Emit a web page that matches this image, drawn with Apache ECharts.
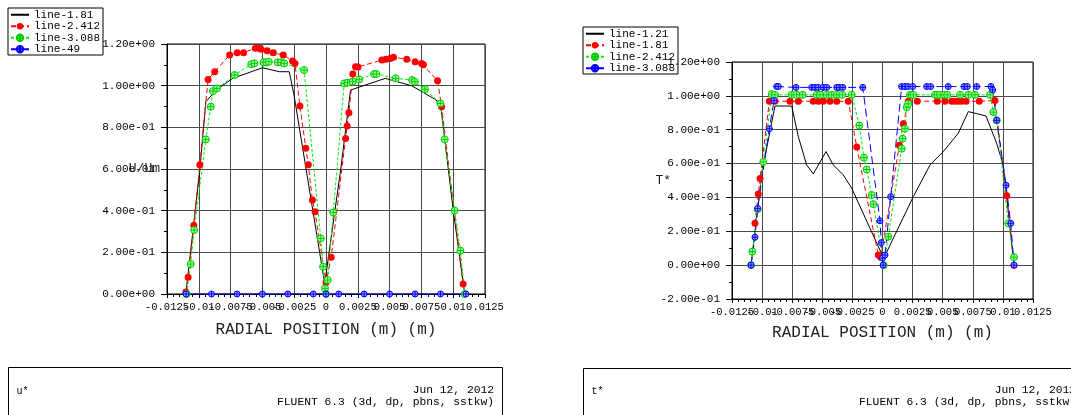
<!DOCTYPE html>
<html>
<head>
<meta charset="utf-8">
<script src="https://cdn.jsdelivr.net/npm/echarts@6/dist/echarts.min.js"></script>
<style>
  html, body { margin: 0; padding: 0; background: #fff; overflow: hidden; }
  #uPlot { position: absolute; left: 0; top: 0; width: 540px; height: 415px; }
  #tPlot { position: absolute; left: 540px; top: 0; width: 531px; height: 415px; }
</style>
</head>
<body>
<div id="uPlot"></div>
<div id="tPlot"></div>
<script>
// ---- tick values ----
const xTickValues = [-0.0125, -0.01, -0.0075, -0.005, -0.0025, 0, 0.0025, 0.005, 0.0075, 0.01, 0.0125];
const uTickValues = [0, 0.2, 0.4, 0.6, 0.8, 1.0, 1.2];
const tTickValues = [-0.2, 0, 0.2, 0.4, 0.6, 0.8, 1.0, 1.2];

// ---- u* profiles: [radial position (m), U/Um] ----
const uLine181 = [
  [-0.01102, 0], [-0.00992, 0.595], [-0.00945, 0.923], [-0.00862, 0.979], [-0.00734, 1.035],
  [-0.0050, 1.086], [-0.00367, 1.067], [-0.00289, 1.067], [-0.0025, 0.95], [-0.0001, 0.05],
  [0.00115, 0.595], [0.00193, 0.979], [0.00466, 1.035], [0.00672, 1.0], [0.00867, 0.931],
  [0.00906, 0.883], [0.0100, 0.403], [0.01091, 0]
];
const uLine2412 = [
  [-0.01102, 0.01], [-0.01084, 0.08], [-0.01039, 0.33], [-0.00992, 0.62], [-0.00927, 1.03],
  [-0.00875, 1.067], [-0.00758, 1.147], [-0.00698, 1.158], [-0.00648, 1.158], [-0.00555, 1.18],
  [-0.00523, 1.18], [-0.0051, 1.175], [-0.00463, 1.168], [-0.00414, 1.158], [-0.00336, 1.147],
  [-0.00263, 1.119], [-0.00244, 1.107], [-0.00205, 0.903], [-0.00159, 0.70], [-0.00139, 0.62],
  [-0.00107, 0.451], [-0.00086, 0.395], [0, 0.055], [0.00041, 0.176], [0.00154, 0.747],
  [0.00166, 0.806], [0.0018, 0.87], [0.00205, 1.019], [0.00211, 1.056], [0.00232, 1.091],
  [0.00252, 1.09], [0.0044, 1.123], [0.00471, 1.127], [0.00505, 1.131], [0.00531, 1.136],
  [0.00635, 1.127], [0.00701, 1.115], [0.00752, 1.107], [0.00766, 1.10], [0.00877, 1.024],
  [0.00909, 0.899], [0.01078, 0.048]
];
const uLine3088 = [
  [-0.01096, 0], [-0.01064, 0.144], [-0.01036, 0.307], [-0.00945, 0.742], [-0.00906, 0.899],
  [-0.00888, 0.974], [-0.00857, 0.987], [-0.00718, 1.051], [-0.00588, 1.103], [-0.00562, 1.107],
  [-0.00491, 1.112], [-0.0047, 1.112], [-0.0045, 1.115], [-0.0038, 1.112], [-0.00354, 1.112],
  [-0.00328, 1.107], [-0.00172, 1.075], [-0.00041, 0.267], [-0.00023, 0.131], [-0.00008, 0.027],
  [0, 0], [0.00013, 0.067], [0.00057, 0.391], [0.00143, 1.011], [0.00169, 1.014],
  [0.00209, 1.019], [0.00261, 1.03], [0.00378, 1.056], [0.00396, 1.056], [0.00548, 1.035],
  [0.00677, 1.027], [0.00699, 1.019], [0.00777, 0.983], [0.00899, 0.915], [0.00933, 0.742],
  [0.01011, 0.40], [0.01057, 0.208], [0.0109, 0]
];
const uLine49 = [
  [-0.011, 0], [-0.009, 0], [-0.007, 0], [-0.005, 0], [-0.003, 0], [-0.001, 0], [0, 0],
  [0.001, 0], [0.003, 0], [0.005, 0], [0.007, 0], [0.009, 0], [0.011, 0]
];

// ---- t* profiles: [radial position (m), T*] ----
const tLine121 = [
  [-0.01092, 0], [-0.01001, 0.55], [-0.00893, 0.94], [-0.00754, 0.94], [-0.00699, 0.759],
  [-0.0063, 0.592], [-0.00575, 0.539], [-0.00469, 0.671], [-0.00409, 0.592], [-0.00326, 0.533],
  [-0.00256, 0.455], [0.0001, 0.04], [0.00256, 0.405], [0.00395, 0.592], [0.00505, 0.671],
  [0.0063, 0.78], [0.00713, 0.907], [0.0086, 0.881], [0.00948, 0.72], [0.01003, 0.592],
  [0.01092, 0]
];
const tLine181 = [
  [-0.01059, 0.247], [-0.01032, 0.42], [-0.01017, 0.512], [-0.0094, 0.968], [-0.00893, 0.968],
  [-0.00768, 0.968], [-0.00699, 0.968], [-0.00575, 0.968], [-0.00533, 0.968], [-0.00492, 0.968],
  [-0.00436, 0.968], [-0.0038, 0.968], [-0.00284, 0.968], [-0.00214, 0.698], [-0.00035, 0.06],
  [-0.00015, 0.047], [0.0014, 0.708], [0.00173, 0.835], [0.00214, 0.968], [0.00289, 0.968],
  [0.00455, 0.968], [0.00519, 0.968], [0.00575, 0.968], [0.00602, 0.968], [0.0063, 0.968],
  [0.00658, 0.968], [0.00694, 0.968], [0.00804, 0.968], [0.00934, 0.972], [0.01032, 0.41],
  [0.01059, 0.247], [0.01092, 0]
];
const tLine2412 = [
  [-0.01092, 0], [-0.01081, 0.08], [-0.01037, 0.33], [-0.0099, 0.61], [-0.0092, 1.01],
  [-0.00893, 1.006], [-0.00754, 1.006], [-0.00713, 1.006], [-0.00663, 1.006], [-0.00547, 1.006],
  [-0.00519, 1.006], [-0.00463, 1.006], [-0.00422, 1.006], [-0.0038, 1.006], [-0.00334, 1.006],
  [-0.00256, 1.006], [-0.00193, 0.825], [-0.00154, 0.635], [-0.00131, 0.565], [-0.0009, 0.414],
  [-0.00076, 0.36], [0.0001, 0], [0.00048, 0.168], [0.00159, 0.688], [0.00167, 0.747],
  [0.00187, 0.806], [0.00201, 0.933], [0.00214, 0.953], [0.00228, 1.006], [0.00242, 1.006],
  [0.00256, 1.006], [0.00436, 1.006], [0.00455, 1.006], [0.00478, 1.006], [0.00519, 1.006],
  [0.00538, 1.006], [0.00644, 1.006], [0.00713, 1.006], [0.00768, 1.006], [0.00893, 1.006],
  [0.00921, 0.904], [0.00949, 0.855], [0.01045, 0.247], [0.01092, 0.047]
];
const tLine3088 = [
  [-0.01092, 0], [-0.01059, 0.165], [-0.01037, 0.335], [-0.0094, 0.806], [-0.00901, 0.972],
  [-0.00879, 1.055], [-0.00865, 1.055], [-0.00718, 1.05], [-0.00588, 1.05], [-0.00561, 1.05],
  [-0.00533, 1.05], [-0.00492, 1.05], [-0.00463, 1.05], [-0.0038, 1.05], [-0.00359, 1.05],
  [-0.0033, 1.05], [-0.00164, 1.05], [-0.00021, 0.262], [-0.0001, 0.133], [0, 0.041],
  [0.00005, 0], [0.00021, 0.06], [0.00068, 0.404], [0.00159, 1.055], [0.00187, 1.055],
  [0.00214, 1.055], [0.00251, 1.055], [0.00367, 1.055], [0.004, 1.055], [0.00546, 1.055],
  [0.00677, 1.055], [0.00704, 1.055], [0.00782, 1.055], [0.00901, 1.055], [0.00915, 1.035],
  [0.00948, 0.855], [0.01026, 0.472], [0.01065, 0.247], [0.01092, 0]
];

const MONO = '"Liberation Mono", "DejaVu Sans Mono", monospace';
const CROSS_CIRCLE = 'path://M10,0A10,10,0,1,1,10,20A10,10,0,1,1,10,0ZM0,10L20,10M10,0L10,20';

// line styles used by the plots
const STYLE = {
  black: { line: { color: '#000000', width: 1, type: 'solid' }, symbol: 'none' },
  red:   { line: { color: '#ff0000', width: 1, type: [5, 3] }, symbol: 'circle', size: 7,
           item: { color: '#ff0000', borderWidth: 0 } },
  green: { line: { color: '#00ee00', width: 1, type: [3, 2] }, symbol: CROSS_CIRCLE, size: 7,
           item: { color: '#a0ffa0', borderColor: '#00cc00', borderWidth: 1 } },
  blue:  { line: { color: '#0000ff', width: 1, type: [8, 4] }, symbol: CROSS_CIRCLE, size: 6,
           item: { color: '#a0a0ff', borderColor: '#0000ff', borderWidth: 1 } }
};
const BLUE_SOLID = Object.assign({}, STYLE.blue, { line: { color: '#0000ff', width: 1, type: 'solid' } });

function series(name, data, st) {
  return {
    type: 'line', name, data,
    showSymbol: st.symbol !== 'none',
    symbol: st.symbol, symbolSize: st.size || 0,
    lineStyle: st.line,
    itemStyle: st.item || { color: st.line.color },
    animation: false, silent: true
  };
}

// legend entry: plain line icon for series drawn without markers
function legendEntry(s) {
  if (s.symbol === 'none') {
    return { name: s.name, itemStyle: { color: 'rgba(0,0,0,0)', borderWidth: 0 } };
  }
  return { name: s.name };
}

function expLabel(v) {
  if (Math.abs(v) < 1e-12) return '0.00e+00';
  const m = v.toExponential(2).match(/^(-?[\d.]+)e([+-])(\d+)$/);
  return m[1] + 'e' + m[2] + m[3].padStart(2, '0');
}
function posLabel(v) {
  const r = parseFloat(v.toFixed(5));
  return (r === 0 ? 0 : r).toString();
}
// end labels only (drawn by a second, line-less axis so that the crowded
// inner labels are never dropped)
function endLabel(v) {
  const lo = xTickValues[0], hi = xTickValues[xTickValues.length - 1];
  return (Math.abs(v - lo) < 1e-9 || Math.abs(v - hi) < 1e-9) ? posLabel(v) : '';
}
function step(a) { return parseFloat((a[1] - a[0]).toFixed(6)); }

const X_LABEL = { fontFamily: MONO, fontSize: 10.5, color: '#000', margin: 8, hideOverlap: false };

function buildOption(cfg) {
  const xMin = xTickValues[0], xMax = xTickValues[xTickValues.length - 1];
  return {
    animation: false,
    backgroundColor: '#ffffff',
    textStyle: { fontFamily: MONO },
    grid: Object.assign({ show: true, borderColor: '#000', borderWidth: 1, containLabel: false,
                          outerBoundsMode: 'none' }, cfg.grid),
    legend: {
      orient: 'vertical', left: cfg.legendPos[0], top: cfg.legendPos[1],
      itemGap: 0, itemWidth: 18, itemHeight: 8,
      padding: [1, 3, 0, 2], borderColor: '#000', borderWidth: 1, borderRadius: 0,
      selectedMode: false,
      textStyle: { fontFamily: MONO, fontSize: 11, lineHeight: 11.5, color: '#000' },
      data: cfg.series.map(legendEntry)
    },
    xAxis: [{
      type: 'value', min: xMin, max: xMax, interval: step(xTickValues),
      position: 'bottom', offset: 0,
      name: 'RADIAL POSITION (m) (m)', nameLocation: 'middle', nameGap: cfg.xNameGap,
      nameMoveOverlap: false,
      nameTextStyle: { fontFamily: MONO, fontSize: 16, color: '#222' },
      axisLine: { onZero: false, lineStyle: { color: '#000', width: 1 } },
      axisTick: { show: true, length: 4, lineStyle: { color: '#000' } },
      minorTick: { show: true, splitNumber: 5, length: 3, lineStyle: { color: '#000' } },
      splitLine: { show: true, lineStyle: { color: '#4a4a4a', width: 1 } },
      axisLabel: Object.assign({ formatter: posLabel, showMinLabel: false, showMaxLabel: false }, X_LABEL)
    }, {
      type: 'value', min: xMin, max: xMax, interval: step(xTickValues),
      position: 'bottom', offset: 0,
      axisLine: { show: false, onZero: false }, axisTick: { show: false },
      minorTick: { show: false }, splitLine: { show: false },
      axisLabel: Object.assign({ formatter: endLabel, showMinLabel: true, showMaxLabel: true }, X_LABEL)
    }],
    yAxis: {
      type: 'value', min: cfg.yTicks[0], max: cfg.yTicks[cfg.yTicks.length - 1],
      interval: step(cfg.yTicks),
      name: cfg.yName, nameLocation: 'middle', nameRotate: 0, nameGap: cfg.yNameGap,
      nameMoveOverlap: false,
      nameTextStyle: { fontFamily: MONO, fontSize: 13, color: '#222' },
      axisLine: { onZero: false, lineStyle: { color: '#000', width: 1 } },
      axisTick: { show: true, length: 6, lineStyle: { color: '#000' } },
      minorTick: { show: true, splitNumber: 2, length: 3, lineStyle: { color: '#000' } },
      splitLine: { show: true, lineStyle: { color: '#4a4a4a', width: 1 } },
      axisLabel: { formatter: expLabel, fontFamily: MONO, fontSize: 11, color: '#000', margin: 12,
                   showMinLabel: true, showMaxLabel: true, hideOverlap: false }
    },
    series: cfg.series,
    graphic: [
      { type: 'rect', shape: cfg.box, style: { fill: 'none', stroke: '#000', lineWidth: 1 }, silent: true },
      { type: 'text', x: cfg.box.x + 8, y: 391,
        style: { text: cfg.boxTitle, font: '10px ' + MONO, fill: '#000', verticalAlign: 'middle' } },
      { type: 'text', x: cfg.textRight, y: 390,
        style: { text: 'Jun 12, 2012', font: '11.3px ' + MONO, fill: '#000', align: 'right', verticalAlign: 'middle' } },
      { type: 'text', x: cfg.textRight, y: 402,
        style: { text: 'FLUENT 6.3 (3d, dp, pbns, sstkw)', font: '11.3px ' + MONO, fill: '#000', align: 'right', verticalAlign: 'middle' } }
    ]
  };
}

const uChart = echarts.init(document.getElementById('uPlot'), null, { renderer: 'canvas' });
uChart.setOption(buildOption({
  grid: { left: 167, top: 44, width: 318, height: 250 },
  legendPos: [8, 8],
  yTicks: uTickValues, yName: 'U/Um', yNameGap: 7, xNameGap: 28,
  box: { x: 8.5, y: 367.5, width: 494, height: 60 }, boxTitle: 'u*', textRight: 494,
  series: [
    series('line-1.81', uLine181, STYLE.black),
    series('line-2.412', uLine2412, STYLE.red),
    series('line-3.088', uLine3088, STYLE.green),
    series('line-49', uLine49, BLUE_SOLID)
  ]
}));

const tChart = echarts.init(document.getElementById('tPlot'), null, { renderer: 'canvas' });
tChart.setOption(buildOption({
  grid: { left: 192, top: 62, width: 301, height: 237 },
  legendPos: [43, 27],
  yTicks: tTickValues, yName: 'T*', yNameGap: 61, xNameGap: 26,
  box: { x: 43.5, y: 368.5, width: 502, height: 60 }, boxTitle: 't*', textRight: 536,
  series: [
    series('line-1.21', tLine121, STYLE.black),
    series('line-1.81', tLine181, STYLE.red),
    series('line-2.412', tLine2412, STYLE.green),
    series('line-3.088', tLine3088, STYLE.blue)
  ]
}));
</script>
</body>
</html>
